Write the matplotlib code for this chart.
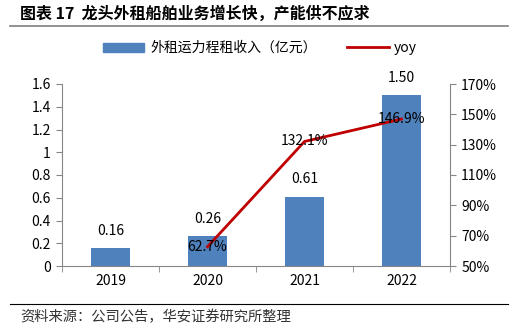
import matplotlib
matplotlib.use('Agg')
import matplotlib.pyplot as plt
import numpy as np
from matplotlib.lines import Line2D
from matplotlib.patches import Patch

plt.rcParams['font.family'] = ['Noto Sans CJK SC', 'DejaVu Sans']

years = ['2019', '2020', '2021', '2022']
revenue = [0.16, 0.26, 0.61, 1.50]      # 外租运力程租收入（亿元）
yoy = [None, 62.7, 132.1, 146.9]        # 同比增速 %
left_ticks = [0, 0.2, 0.4, 0.6, 0.8, 1, 1.2, 1.4, 1.6]
right_ticks = [50, 70, 90, 110, 130, 150, 170]

bar_color = '#4F81BD'
line_color = '#C00000'
axis_color = '#868686'

fig = plt.figure(figsize=(5.14, 3.29), dpi=100)
ax = fig.add_axes([62/514, 1-266/329, (450-62)/514, (266-84)/329])
x = np.arange(len(years))
ax.bar(x, revenue, width=0.4, color=bar_color, zorder=2)
for xi, v in zip(x, revenue):
    ax.text(xi, v + 0.09, '%.2f' % v, ha='center', va='bottom', fontsize=10)

ax.set_xlim(-0.5, 3.5)
ax.set_ylim(0, 1.6)
ax.set_yticks(left_ticks)
ax.set_yticklabels([('%g' % t) for t in left_ticks], fontsize=10)
ax.set_xticks(x)
ax.set_xticklabels(years, fontsize=10)
ax.tick_params(axis='x', length=0, pad=6)
ax.set_xticks(np.arange(-0.5, 4, 1), minor=True)
ax.tick_params(axis='x', which='minor', length=4, color=axis_color)
ax.tick_params(axis='y', length=4, color=axis_color, pad=4)
for s in ['top', 'right']:
    ax.spines[s].set_visible(False)
ax.spines['left'].set_color(axis_color)
ax.spines['bottom'].set_color(axis_color)

ax2 = ax.twinx()
xs = [i for i, v in enumerate(yoy) if v is not None]
ys = [v for v in yoy if v is not None]
ax2.plot(xs, ys, color=line_color, lw=2, zorder=3)
for xi, v in zip(xs, ys):
    ax2.text(xi, v, '%.1f%%' % v, ha='center', va='center', fontsize=10)
ax2.set_ylim(50, 170)
ax2.set_yticks(right_ticks)
ax2.set_yticklabels(['%d%%' % t for t in right_ticks], fontsize=10)
ax2.tick_params(axis='y', length=4, color=axis_color, pad=4)
for s in ['top', 'left', 'bottom']:
    ax2.spines[s].set_visible(False)
ax2.spines['right'].set_color(axis_color)

handles = [Patch(color=bar_color), Line2D([0], [0], color=line_color, lw=2)]
fig.legend(handles, ['外租运力程租收入（亿元）', 'yoy'], loc='center',
           bbox_to_anchor=(260/514, 1-48/329), ncol=2, frameon=False, fontsize=10,
           handlelength=3.0, handleheight=0.6, columnspacing=2.2, handletextpad=0.4)

fig.text(20/514, 1-14/329, '图表 17  龙头外租船舶业务增长快，产能供不应求',
         fontsize=11.5, fontweight='bold', va='center', ha='left')
fig.add_artist(Line2D([10/514, 508/514], [1-26/329, 1-26/329], color='#7f7f7f', lw=1.2))
fig.add_artist(Line2D([10/514, 508/514], [1-304/329, 1-304/329], color='black', lw=0.8))
fig.text(20/514, 1-317/329, '资料来源：公司公告，华安证券研究所整理',
         fontsize=10.3, va='center', ha='left', color='#333333')

fig.savefig('out.png', dpi=100)
